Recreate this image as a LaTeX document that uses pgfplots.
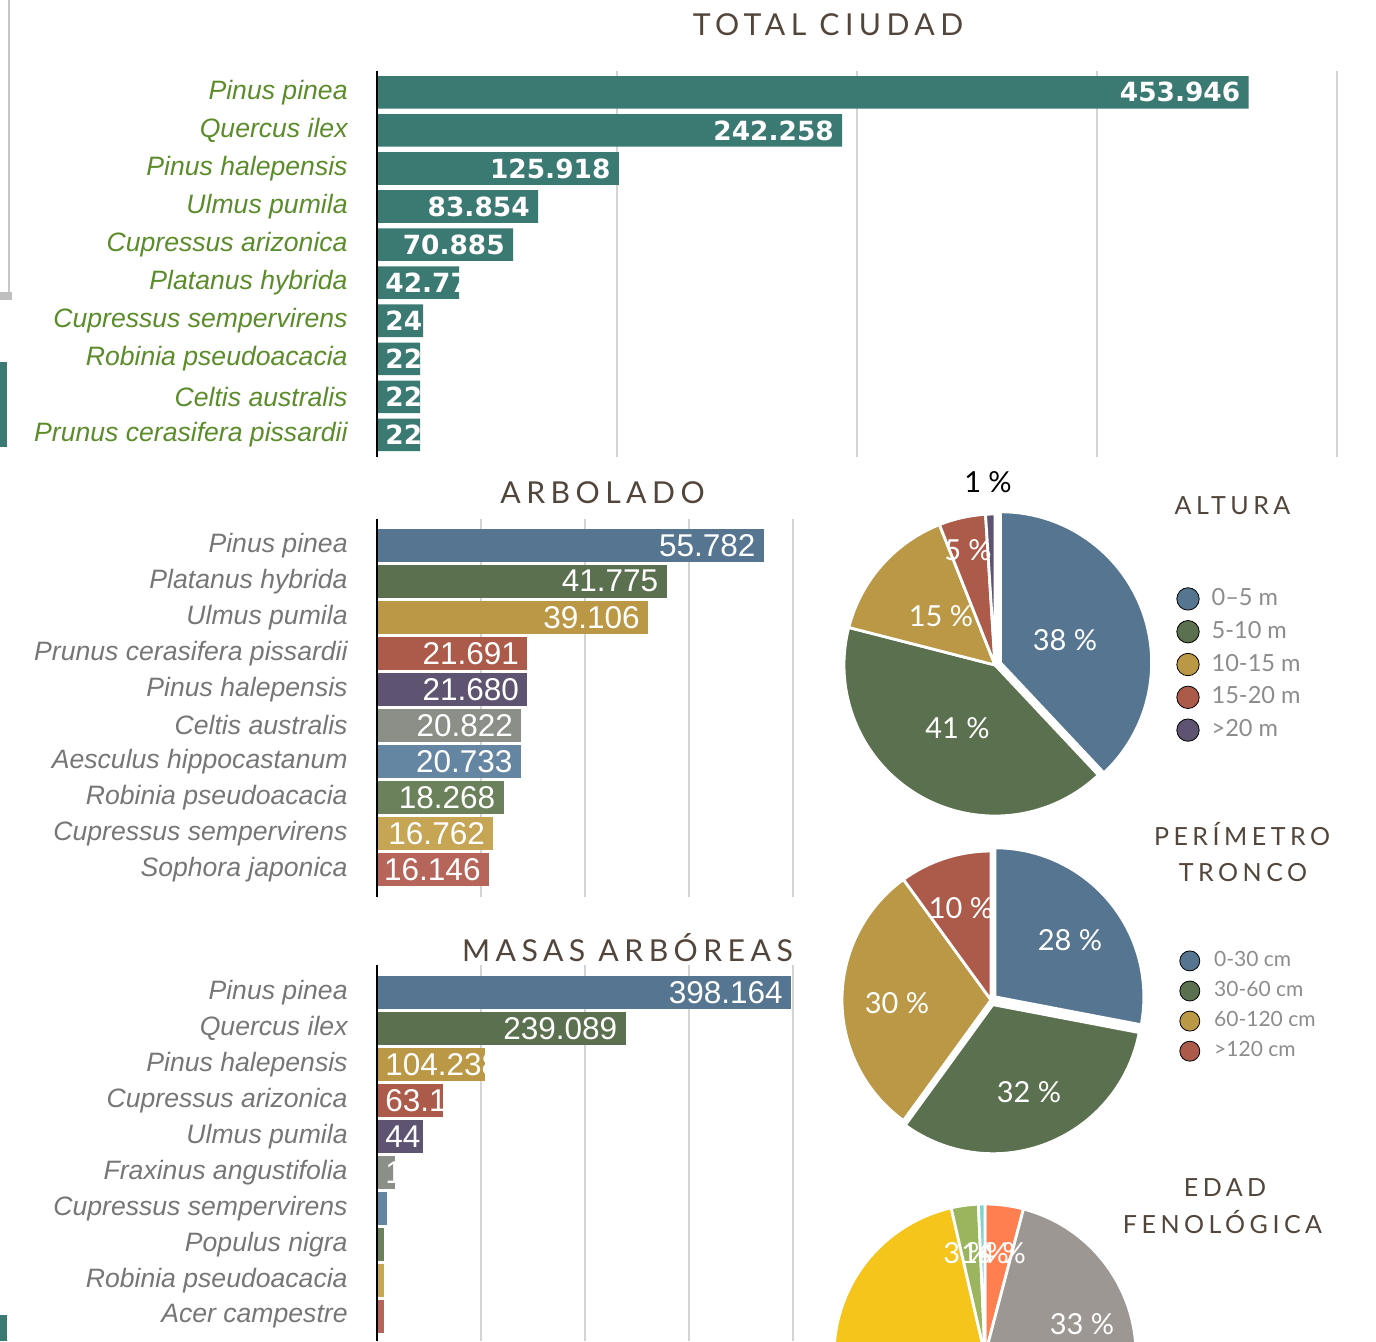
\documentclass[border=0pt]{standalone}
\usepackage{pgfplots}
\pgfplotsset{compat=1.18}
\usepackage{fontspec}
\setmainfont{Lato}
\newfontfamily\lab{Liberation Sans}
\newfontfamily\bnum{DejaVu Sans}
\newfontfamily\ttl{Lato}[LetterSpace=18]

\definecolor{cTeal}{RGB}{59,121,115}
\definecolor{cGreenTxt}{RGB}{91,140,42}
\definecolor{cGrayTxt}{RGB}{118,118,118}
\definecolor{cGrid}{RGB}{212,212,212}
\definecolor{cTitle}{RGB}{82,70,60}
\definecolor{cLeg}{RGB}{140,140,140}
\definecolor{c1}{RGB}{86,117,145}
\definecolor{c2}{RGB}{90,112,78}
\definecolor{c3}{RGB}{187,152,69}
\definecolor{c4}{RGB}{172,90,73}
\definecolor{c5}{RGB}{94,84,114}
\definecolor{c6}{RGB}{139,143,136}
\definecolor{c7}{RGB}{101,134,163}
\definecolor{c8}{RGB}{107,129,91}
\definecolor{c9}{RGB}{198,165,85}
\definecolor{c10}{RGB}{182,101,90}
\definecolor{pOrange}{RGB}{255,127,80}
\definecolor{pGray}{RGB}{156,151,146}
\definecolor{pBrown}{RGB}{150,120,90}
\definecolor{pYellow}{RGB}{245,197,28}
\definecolor{pGreen}{RGB}{155,180,94}
\definecolor{pTeal}{RGB}{127,212,205}

\newcommand\XY[2]{({#1*0.5pt},{-#2*0.5pt})}
% pie wedge: radius(px), start(%), size(%), colour, explode(px)
\newcommand\pieslice[5]{\fill[#4, draw=white, line width=1.4pt, line join=round]
  (axis cs:{#5*cos(90-1.8*(2*#2+#3))},{#5*sin(90-1.8*(2*#2+#3))})
  -- ++({90-3.6*#2}:{#1*0.5pt})
  arc[start angle={90-3.6*#2}, end angle={90-3.6*(#2+#3)}, radius={#1*0.5pt}] -- cycle;}
\newcommand\lblE[3]{\node[#3, anchor=east, xshift=-4pt] at (axis cs:#1) {#2};}
\newcommand\lblW[3]{\node[#3, anchor=west, xshift=4pt] at (axis cs:0,#1) {#2};}

\tikzset{
  topnum/.style={font=\bnum\bfseries\fontsize{13.2}{15}\selectfont, text=white, inner sep=0pt},
  midnum/.style={font=\lab\fontsize{15.75}{18}\selectfont, text=white, inner sep=0pt},
  pienum/.style={font=\fontsize{14.5}{16}\selectfont, text=white, inner sep=0pt},
}

\pgfplotsset{
  hbar/.style={
    xbar, bar shift=0pt, scale only axis, y dir=reverse, anchor=north west,
    axis line style={draw=none}, major tick length=0pt, tick style={draw=none},
    xticklabels={}, xmajorgrids, grid style={draw=cGrid, line width=0.6pt},
    ytick={0,...,9},
    yticklabel style={font=\lab\itshape\fontsize{13.3}{15}\selectfont, inner sep=0pt, xshift=-14.5pt, anchor=east},
    clip=false,
  },
  pieax/.style={
    hide axis, scale only axis, anchor=center, width=160pt, height=160pt,
    xmin=-160, xmax=160, ymin=-160, ymax=160, clip=false,
    legend cell align=left,
    legend image code/.code={\fill[##1] (5.6pt,0pt) circle (5.6pt);},
  },
}

\begin{document}
\begin{tikzpicture}
\useasboundingbox (0,0) rectangle (688pt,-670.5pt);
\clip (0,0) rectangle (688pt,-670.5pt);

% ---------------- TOTAL CIUDAD ----------------
\begin{axis}[hbar, at={(188.5pt,-35.5pt)}, width=480pt, height=193pt,
  xmin=0, xmax=500, ymin=-0.56, ymax=9.58, xtick={125,250,375,500}, bar width=16.3pt,
  yticklabels={Pinus pinea, Quercus ilex, Pinus halepensis, Ulmus pumila, Cupressus arizonica,
    Platanus hybrida, Cupressus sempervirens, Robinia pseudoacacia, Celtis australis, Prunus cerasifera pissardii},
  yticklabel style={text=cGreenTxt}]
\addplot[fill=cTeal, draw=none] coordinates {(453.946,0) (242.258,1) (125.918,2) (83.854,3) (70.885,4)
  (42.77,5) (24,6) (22.4,7) (22.4,8) (22.4,9)};
\lblE{453.946,0}{453.946}{topnum}
\lblE{242.258,1}{242.258}{topnum}
\lblE{125.918,2}{125.918}{topnum}
\lblE{83.854,3}{83.854}{topnum}
\lblE{70.885,4}{70.885}{topnum}
\lblW{5}{42.77}{topnum}
\lblW{6}{24.}{topnum}
\lblW{7}{22}{topnum}
\lblW{8}{22}{topnum}
\lblW{9}{22}{topnum}
\draw[black, line width=1pt] (rel axis cs:0,0) -- (rel axis cs:0,1);
\end{axis}

% ---------------- ARBOLADO ----------------
\begin{axis}[hbar, at={(188.5pt,-259.65pt)}, width=208pt, height=189pt,
  xmin=0, xmax=60, ymin=-0.72, ymax=9.77, xtick={15,30,45,60}, bar width=16.6pt,
  yticklabels={Pinus pinea, Platanus hybrida, Ulmus pumila, Prunus cerasifera pissardii, Pinus halepensis,
    Celtis australis, Aesculus hippocastanum, Robinia pseudoacacia, Cupressus sempervirens, Sophora japonica},
  yticklabel style={text=cGrayTxt}]
\addplot[fill=c1, draw=none] coordinates {(55.782,0)};
\addplot[fill=c2, draw=none] coordinates {(41.775,1)};
\addplot[fill=c3, draw=none] coordinates {(39.106,2)};
\addplot[fill=c4, draw=none] coordinates {(21.691,3)};
\addplot[fill=c5, draw=none] coordinates {(21.680,4)};
\addplot[fill=c6, draw=none] coordinates {(20.822,5)};
\addplot[fill=c7, draw=none] coordinates {(20.733,6)};
\addplot[fill=c8, draw=none] coordinates {(18.268,7)};
\addplot[fill=c9, draw=none] coordinates {(16.762,8)};
\addplot[fill=c10, draw=none] coordinates {(16.146,9)};
\lblE{55.782,0}{55.782}{midnum}
\lblE{41.775,1}{41.775}{midnum}
\lblE{39.106,2}{39.106}{midnum}
\lblE{21.691,3}{21.691}{midnum}
\lblE{21.680,4}{21.680}{midnum}
\lblE{20.822,5}{20.822}{midnum}
\lblE{20.733,6}{20.733}{midnum}
\lblE{18.268,7}{18.268}{midnum}
\lblE{16.762,8}{16.762}{midnum}
\lblE{16.146,9}{16.146}{midnum}
\draw[black, line width=1pt] (rel axis cs:0,0) -- (rel axis cs:0,1);
\end{axis}

% ---------------- MASAS ARBOREAS ----------------
\begin{axis}[hbar, at={(188.5pt,-482.5pt)}, width=208pt, height=188pt,
  xmin=0, xmax=400, ymin=-0.764, ymax=9.68, xtick={100,200,300,400}, bar width=16.6pt,
  yticklabels={Pinus pinea, Quercus ilex, Pinus halepensis, Cupressus arizonica, Ulmus pumila,
    Fraxinus angustifolia, Cupressus sempervirens, Populus nigra, Robinia pseudoacacia, Acer campestre},
  yticklabel style={text=cGrayTxt}]
\addplot[fill=c1, draw=none] coordinates {(398.164,0)};
\addplot[fill=c2, draw=none] coordinates {(239.089,1)};
\addplot[fill=c3, draw=none] coordinates {(104.238,2)};
\addplot[fill=c4, draw=none] coordinates {(63.1,3)};
\addplot[fill=c5, draw=none] coordinates {(44.5,4)};
\addplot[fill=c6, draw=none] coordinates {(17.1,5)};
\addplot[fill=c7, draw=none] coordinates {(9.5,6)};
\addplot[fill=c8, draw=none] coordinates {(6.5,7)};
\addplot[fill=c9, draw=none] coordinates {(6.5,8)};
\addplot[fill=c10, draw=none] coordinates {(6.5,9)};
\lblE{398.164,0}{398.164}{midnum}
\lblE{239.089,1}{239.089}{midnum}
\lblW{2}{104.238}{midnum}
\lblW{3}{63.1}{midnum}
\lblW{4}{44}{midnum}
\lblW{5}{1}{midnum}
\draw[black, line width=1pt] (rel axis cs:0,0) -- (rel axis cs:0,1);
\end{axis}

% ---------------- ALTURA pie ----------------
\begin{axis}[pieax, at={(497.5pt,-332.5pt)},
  legend style={at={(1.0656,0.744)}, anchor=north west, draw=none, fill=none, inner sep=0pt,
    font=\fontsize{11.8}{13}\selectfont, nodes={text=cLeg, inner sep=0pt, text height=8.5pt, text depth=2pt},
    row sep=4.8pt, column sep=6pt}]
\addlegendimage{fill=c1}\addlegendentry{0–5 m}
\addlegendimage{fill=c2}\addlegendentry{5-10 m}
\addlegendimage{fill=c3}\addlegendentry{10-15 m}
\addlegendimage{fill=c4}\addlegendentry{15-20 m}
\addlegendimage{fill=c5}\addlegendentry{>20 m}
\pieslice{151}{0}{38}{c1}{6}
\pieslice{151}{38}{41}{c2}{0}
\pieslice{151}{79}{15}{c3}{0}
\pieslice{151}{94}{5}{c4}{0}
\pieslice{151}{99}{1}{c5}{0}
\node[pienum] at (axis cs:70,25) {38 \%};
\node[pienum] at (axis cs:-37.5,-63) {41 \%};
\node[pienum] at (axis cs:-54,49) {15 \%};
\node[pienum] at (axis cs:-27,115) {5 \%};
\node[pienum, text=black] at (axis cs:-7,183) {1 \%};
\end{axis}

% ---------------- PERIMETRO pie ----------------
\begin{axis}[pieax, at={(495.5pt,-500pt)},
  legend style={at={(1.0875,0.656)}, anchor=north west, draw=none, fill=none, inner sep=0pt,
    font=\fontsize{10.5}{12}\selectfont, nodes={text=cLeg, inner sep=0pt, text height=7.5pt, text depth=1.8pt},
    row sep=4.65pt, column sep=7pt},
  legend image code/.code={\fill[#1] (5pt,0pt) circle (5pt);}]
\addlegendimage{fill=c1}\addlegendentry{0-30 cm}
\addlegendimage{fill=c2}\addlegendentry{30-60 cm}
\addlegendimage{fill=c3}\addlegendentry{60-120 cm}
\addlegendimage{fill=c4}\addlegendentry{>120 cm}
\pieslice{149}{0}{28}{c1}{5}
\pieslice{149}{28}{32}{c2}{5}
\pieslice{149}{60}{30}{c3}{0}
\pieslice{149}{90}{10}{c4}{0}
\node[pienum] at (axis cs:79,60) {28 \%};
\node[pienum] at (axis cs:38,-92) {32 \%};
\node[pienum] at (axis cs:-94,-3) {30 \%};
\node[pienum] at (axis cs:-30,92) {10 \%};
\end{axis}

% ---------------- EDAD FENOLOGICA pie ----------------
\begin{axis}[pieax, at={(492.5pt,-677.5pt)}]
\pieslice{151}{0}{4.1}{pOrange}{0}
\pieslice{151}{4.1}{33}{pGray}{0}
\pieslice{151}{37.1}{14.9}{pBrown}{0}
\pieslice{151}{52}{44.4}{pYellow}{0}
\pieslice{151}{96.4}{2.9}{pGreen}{0}
\pieslice{151}{99.3}{0.7}{pTeal}{0}
\node[pienum] at (axis cs:-18,102) {3 \%};
\node[pienum] at (axis cs:0,102) {1 \%};
\node[pienum] at (axis cs:17,102) {4 \%};
\node[pienum] at (axis cs:97,31) {33 \%};
\end{axis}

% ---------------- titles ----------------
\tikzset{t1/.style={anchor=base, inner sep=0pt, text=cTitle, font=\ttl\fontsize{15.1}{18}\selectfont},
         t2/.style={anchor=base, inner sep=0pt, text=cTitle, font=\ttl\fontsize{12.5}{15}\selectfont}}
\node[t1] at \XY{828}{35} {TOTAL CIUDAD};
\node[t1] at \XY{602.5}{503.3} {ARBOLADO};
\node[t1] at \XY{627.5}{961.7} {MASAS ARBÓREAS};
\node[t2] at \XY{1232.5}{514} {ALTURA};
\node[t2] at \XY{1242}{845} {PERÍMETRO};
\node[t2] at \XY{1243}{881.7} {TRONCO};
\node[t2] at \XY{1225}{1196.7} {EDAD};
\node[t2] at \XY{1222.5}{1233.3} {FENOLÓGICA};

% ---------------- page edge remnants ----------------
\fill[cTeal] \XY{0}{362} rectangle \XY{7}{447};
\fill[cTeal] \XY{0}{1315} rectangle \XY{7}{1341};
\draw[black!22, line width=1pt] \XY{9}{0} -- \XY{9}{292};
\fill[black!25] \XY{0}{292} rectangle \XY{12}{300};
\end{tikzpicture}
\end{document}
